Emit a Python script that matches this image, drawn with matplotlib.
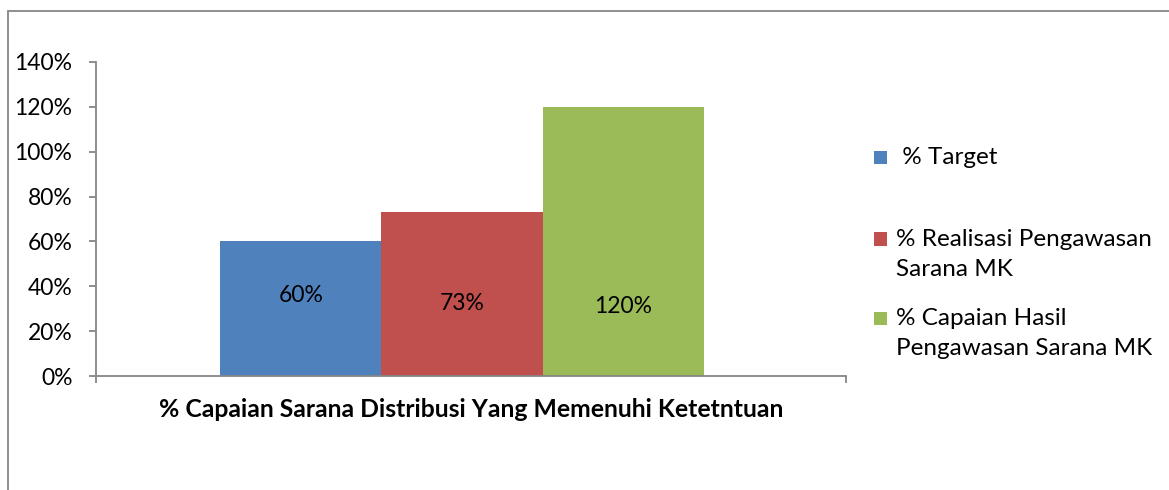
import matplotlib.pyplot as plt
from matplotlib.patches import Rectangle
from matplotlib.ticker import PercentFormatter

plt.rcParams['font.family'] = ['Lato', 'DejaVu Sans']

series = [' % Target',
          '% Realisasi Pengawasan\nSarana MK',
          '% Capaian Hasil\nPengawasan Sarana MK']
values = [0.60, 0.73, 1.20]
value_labels = ['60%', '73%', '120%']
category = '% Capaian Sarana Distribusi Yang Memenuhi Ketetntuan'

colors = ['#4F81BD', '#C0504D', '#9BBB59']
label_y = [0.36, 0.325, 0.31]   # where the value labels sit inside the bars
grey = '#868686'

fig = plt.figure(figsize=(11.69, 4.90), dpi=100)
W, H = 1169, 490

# chart frame (runs off the right and bottom edge)
fig.patches.append(Rectangle((8 / W, -0.1), 1.2, 1 - 11 / H + 0.1,
                             transform=fig.transFigure, fill=False,
                             edgecolor=grey, linewidth=1.3))

ax = fig.add_axes([96 / W, 1 - 376 / H, 750 / W, 314 / H])

width = 0.2147
offsets = [-width, 0, width]
for i in range(len(values)):
    ax.bar(offsets[i], values[i], width, color=colors[i], label=series[i])
    ax.text(offsets[i], label_y[i], value_labels[i], ha='center', va='center',
            fontsize=16.5, color='black')

ax.set_xlim(-0.488, 0.512)
ax.set_ylim(0, 1.4)
ax.set_yticks([0, 0.2, 0.4, 0.6, 0.8, 1.0, 1.2, 1.4])
ax.yaxis.set_major_formatter(PercentFormatter(1.0, decimals=0))
ax.set_xticks([-0.488, 0.512])
ax.set_xticklabels(['', ''])
ax.tick_params(axis='y', length=5, width=1.3, color=grey, labelsize=16.5, pad=12)
ax.tick_params(axis='x', length=5, width=1.3, color=grey)
ax.set_xlabel(category, fontsize=17.8, fontweight='bold', labelpad=7)

for side in ['top', 'right']:
    ax.spines[side].set_visible(False)
for side in ['left', 'bottom']:
    ax.spines[side].set_color(grey)
    ax.spines[side].set_linewidth(1.3)

# legend, with each swatch level with the first line of its label
legend_rows = [157, 239, 318]
for i in range(len(series)):
    y = 1 - legend_rows[i] / H
    fig.patches.append(Rectangle((874 / W, y - 6.5 / H), 13 / W, 13 / H,
                                 transform=fig.transFigure,
                                 facecolor=colors[i], edgecolor='none'))
    fig.text(896 / W, y + 10 / H, series[i], ha='left', va='top',
             fontsize=17.5, linespacing=1.55)

fig.savefig('out.png', dpi=100)
